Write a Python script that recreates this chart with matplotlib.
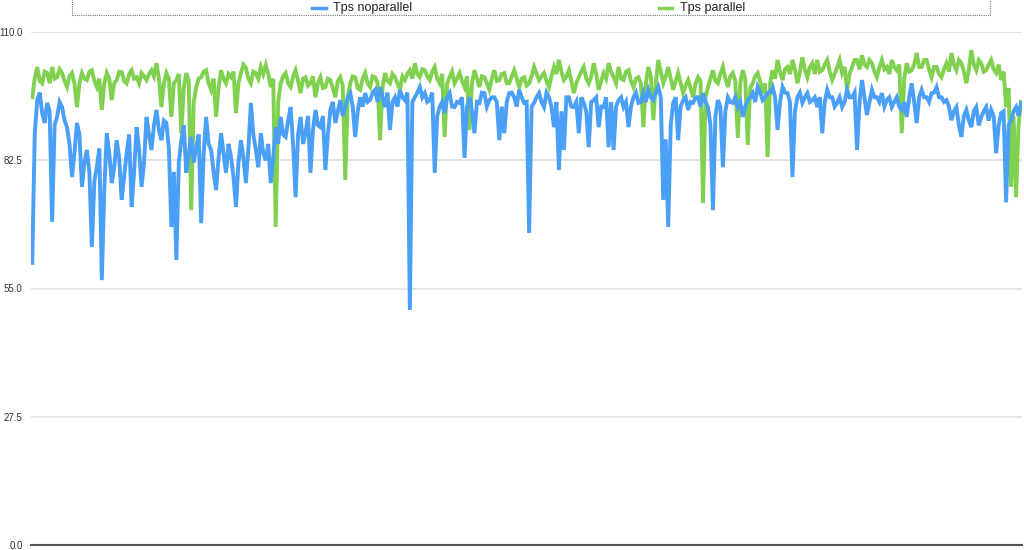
import matplotlib
matplotlib.use("Agg")
import matplotlib.pyplot as plt
from matplotlib.patches import Rectangle
from matplotlib.lines import Line2D

plt.rcParams['font.family'] = ['Liberation Sans', 'DejaVu Sans']

series_names = ["Tps noparallel", "Tps parallel"]
y_ticks = [0.0, 27.5, 55.0, 82.5, 110.0]

tps_noparallel = [
    60.5, 88, 95.4, 97, 92.6, 90.5, 94.8, 93, 69.3, 90,
    91.8, 95, 93.9, 91, 89.6, 86, 78.9, 84, 90.5, 88,
    76.8, 82, 84.7, 80, 63.9, 78, 81.0, 85, 56.8, 76,
    88.3, 84, 77.6, 81, 86.8, 83, 74.0, 79, 84.0, 88,
    72.5, 80, 89.6, 85, 76.8, 82, 91.8, 88, 84.7, 90,
    93.3, 89, 86.8, 91, 90.5, 85, 68.2, 80, 61.1, 82,
    86.8, 90, 79.8, 84, 87.5, 82, 85.3, 88, 69.0, 84,
    91.8, 86, 84.7, 80, 76.1, 83, 88.3, 84, 79.8, 86,
    83.2, 79, 72.5, 82, 86.8, 83, 77.6, 85, 94.8, 88,
    84.7, 81, 88.3, 84, 82.5, 86, 77.6, 83, 89.6, 86,
    91.8, 88, 87.5, 91, 93.9, 86, 74.6, 88, 91.8, 86,
    88.3, 92, 79.8, 89, 93.3, 90, 89.6, 92, 80.4, 88,
    93.3, 95, 90.5, 93, 95.4, 92, 93.9, 96, 96.9, 94,
    87.5, 93, 96.0, 94, 96.9, 95, 95.4, 97, 97.6, 95,
    98.2, 96, 93.9, 97, 89.0, 95, 96.0, 94, 97.6, 96,
    95.4, 97, 50.4, 95, 96.0, 97, 98.2, 96, 96.9, 95,
    95.4, 97, 79.8, 92, 93.9, 95, 92.6, 96, 96.9, 94,
    93.9, 95, 94.8, 96, 83.0, 94, 96.0, 93, 88.3, 95,
    94.8, 97, 96.9, 94, 95.4, 96, 96.0, 95, 86.8, 94,
    88.3, 95, 96.9, 97, 96.0, 94, 97.6, 96, 94.8, 95,
    66.9, 94, 94.8, 96, 96.9, 95, 93.9, 97, 96.0, 94,
    89.6, 95, 80.4, 93, 84.7, 96, 96.0, 94, 93.9, 95,
    88.3, 96, 94.8, 93, 85.3, 95, 95.4, 96, 89.6, 94,
    93.9, 96, 85.3, 95, 84.7, 94,
    95.4, 96, 93.9, 95, 89.6, 94, 96.0, 97, 94.8, 95,
    96.9, 95, 97.6, 96, 95.4, 97, 98.2, 96, 74.0, 87,
    68.2, 90, 94.8, 96, 86.8, 94, 95.4, 96, 93.3, 95,
    94.8, 96, 96.0, 94, 96.9, 95, 93.9, 90, 71.8, 92,
    95.4, 94, 81.0, 93, 96.0, 95, 94.8, 96, 93.9, 95,
    91.8, 94, 95.4, 96, 96.9, 95, 98.2, 97, 95.4, 96,
    96.9, 97, 98.2, 96, 89.0, 95, 98.2, 97, 96.9, 95,
    78.9, 93, 96.0, 97, 94.8, 96, 96.9, 95, 95.4, 96,
    93.9, 96, 88.3, 95, 97.6, 96, 96.0, 94, 94.8, 96,
    93.9, 95, 97.6, 96, 96.0, 97, 84.7, 95, 99.7, 96,
    92.2, 95, 97.6, 96, 96.0, 95, 96.9, 94, 95.4, 96,
    93.9, 95, 96.0, 94, 93.3, 95, 91.8, 96, 99.0, 95,
    90.5, 96, 97.6, 96, 96.0, 95, 96.9, 97, 98.2, 96,
    96.0, 95, 95.4, 94, 91.1, 93, 93.9, 90, 87.5, 92,
    93.3, 91, 89.6, 93, 93.9, 90, 91.8, 93, 93.9, 91,
    93.3, 92, 84.0, 90, 92.6, 93, 73.5, 90, 91.1, 93,
    93.9, 92, 94.8,
]

tps_parallel = [
    96.0, 100, 102.5, 99.5, 99.0, 101.5, 101.2, 99, 102.5, 100,
    100.3, 102, 101.2, 99.5, 98.2, 100.5, 101.2, 99, 93.9, 99,
    101.2, 100, 99.7, 101.5, 101.8, 99.5, 98.2, 100, 93.3, 99,
    101.2, 100, 95.4, 99, 99.7, 101.5, 101.4, 99.5, 99.0, 101,
    101.8, 100, 100.3, 99, 101.2, 100.5, 99.7, 101, 101.8, 100.5,
    103.3, 100, 93.9, 99, 101.2, 100, 91.8, 99, 99.7, 101,
    88.3, 98, 101.2, 99.5, 71.8, 95, 98.2, 100, 100.3, 101.5,
    101.8, 99, 97.6, 100, 91.8, 98, 101.8, 100, 99.0, 101,
    100.3, 101.5, 92.6, 99, 101.2, 103, 102.3, 100, 99.0, 101.5,
    101.2, 100, 102.5, 101, 102.9, 101, 98.2, 100, 68.2, 95,
    99.0, 100.5, 101.2, 99, 98.2, 100.5, 101.8, 99.5, 96.9, 100,
    100.3, 98.5, 99.0, 100.5, 96.0, 99, 100.3, 98, 98.2, 100,
    99.7, 98, 96.0, 99.5, 100.3, 98.5, 78.3, 96, 99.0, 100.5,
    100.3, 98, 97.6, 100, 101.2, 99, 98.2, 100.5, 100.3, 99,
    86.8, 98, 101.2, 99.5, 99.0, 101, 100.3, 99, 97.6, 100.5,
    99.7, 101, 101.8, 100, 103.3, 101, 100.3, 102, 101.8, 100.5,
    99.7, 101.5, 102.5, 100, 99.0, 101, 87.5, 99, 100.3, 101.5,
    99.0, 100, 101.2, 99.5, 98.2, 100.5, 89.0, 99, 101.8, 100,
    98.2, 100.5, 100.3, 99, 97.6, 100, 101.8, 99.5, 99.7, 101,
    101.2, 99, 99.0, 100.5, 101.8, 100, 98.2, 100, 100.3, 98.5,
    99.0, 100.5, 102.5, 101, 99.7, 100.5, 101.2, 99.5, 98.2, 100.5,
    102.5, 101, 104.0, 101.5, 99.7, 100.5, 101.8, 99.5, 96.9, 99,
    100.3, 101.5, 102.5, 100, 99.0, 100.5, 103.3, 101, 97.6, 99.5,
    101.2, 100, 103.3, 101.5, 100.3, 99,
    102.5, 100, 99.7, 101.5, 101.8, 99.5, 98.2, 100, 100.3, 99,
    89.6, 99, 102.5, 100.5, 91.1, 99, 104.0, 101.5, 99.0, 100.5,
    102.5, 100, 97.6, 99.5, 101.2, 99, 96.9, 98.5, 99.7, 98,
    96.0, 99, 100.3, 99.5, 73.3, 96, 98.2, 100, 101.8, 99.5,
    99.0, 101, 102.5, 100, 98.2, 100.5, 101.2, 99.5, 87.3, 99,
    101.8, 100, 85.8, 98, 99.0, 100.5, 101.2, 99.5, 96.9, 99,
    83.2, 99, 101.8, 100, 104.0, 101.5, 99.7, 102, 102.5, 101,
    104.0, 102, 99.0, 101.5, 104.6, 102, 100.3, 102.5, 103.3, 101,
    104.0, 101.5, 101.8, 103, 104.0, 101.5, 99.7, 101, 102.5, 104,
    101.2, 102.5, 97.6, 101, 102.5, 104, 104.0, 102, 105.0, 103,
    102.5, 104, 103.3, 101.5, 100.3, 102.5, 104.0, 102, 102.5, 101,
    104.0, 102.5, 101.8, 103, 88.3, 100, 103.3, 101.5, 101.8, 103,
    105.5, 102.5, 102.5, 104, 104.0, 102, 100.3, 102.5, 102.5, 101,
    100.3, 102, 103.3, 101.5, 105.5, 103, 101.8, 104, 103.3, 101.5,
    99.0, 102, 106.1, 103, 101.8, 104, 103.3, 101.5, 101.8, 103,
    104.0, 102, 101.2, 103, 99.7, 101.5, 93.9, 98, 76.8, 92,
    74.6, 90, 95.0,
]

W, H = 1024, 550
fig = plt.figure(figsize=(W / 100, H / 100), dpi=100)
ax = fig.add_axes([31 / W, 5 / H, (1022 - 31) / W, (545 - 32) / H])

blue = '#4A9FF6'
green = '#80D14F'
xb = list(range(len(tps_noparallel)))
xg = list(range(len(tps_parallel)))
n = max(len(xb), len(xg))
ax.plot(xb, tps_noparallel, color=blue, lw=2.8, solid_joinstyle='miter', zorder=3)
ax.plot(xg, tps_parallel, color=green, lw=2.8, solid_joinstyle='miter', zorder=2)

ax.set_ylim(0, 110)
ax.set_xlim(-0.5, n - 0.6)
ax.set_yticks(y_ticks)
ax.set_yticklabels([f"{t:.1f}" for t in y_ticks], fontsize=7, color='#333333')
ax.tick_params(axis='y', length=0, pad=6)
ax.set_xticks([])
for t in y_ticks[1:]:
    ax.axhline(t, color='#e1e3e3', lw=1.3, zorder=1)
ax.axhline(0, color='#555555', lw=1.5, zorder=4, clip_on=False)
for s in ax.spines.values():
    s.set_visible(False)

# legend
fig.patches.append(Rectangle((72 / W, (550 - 15) / H), (990 - 72) / W, 16 / H,
                             transform=fig.transFigure, fill=False,
                             edgecolor='#777777', lw=0.8, linestyle=(0, (1, 1))))
ly = 1 - 8 / H
fig.lines.append(Line2D([312 / W, 326 / W], [ly, ly], transform=fig.transFigure,
                        color=blue, lw=2.5))
fig.text(333 / W, ly, series_names[0], fontsize=9, va='center', ha='left', color='#222222')
fig.lines.append(Line2D([659 / W, 672 / W], [ly, ly], transform=fig.transFigure,
                        color=green, lw=2.5))
fig.text(680 / W, ly, series_names[1], fontsize=9, va='center', ha='left', color='#222222')

fig.savefig('out.png', dpi=100)
